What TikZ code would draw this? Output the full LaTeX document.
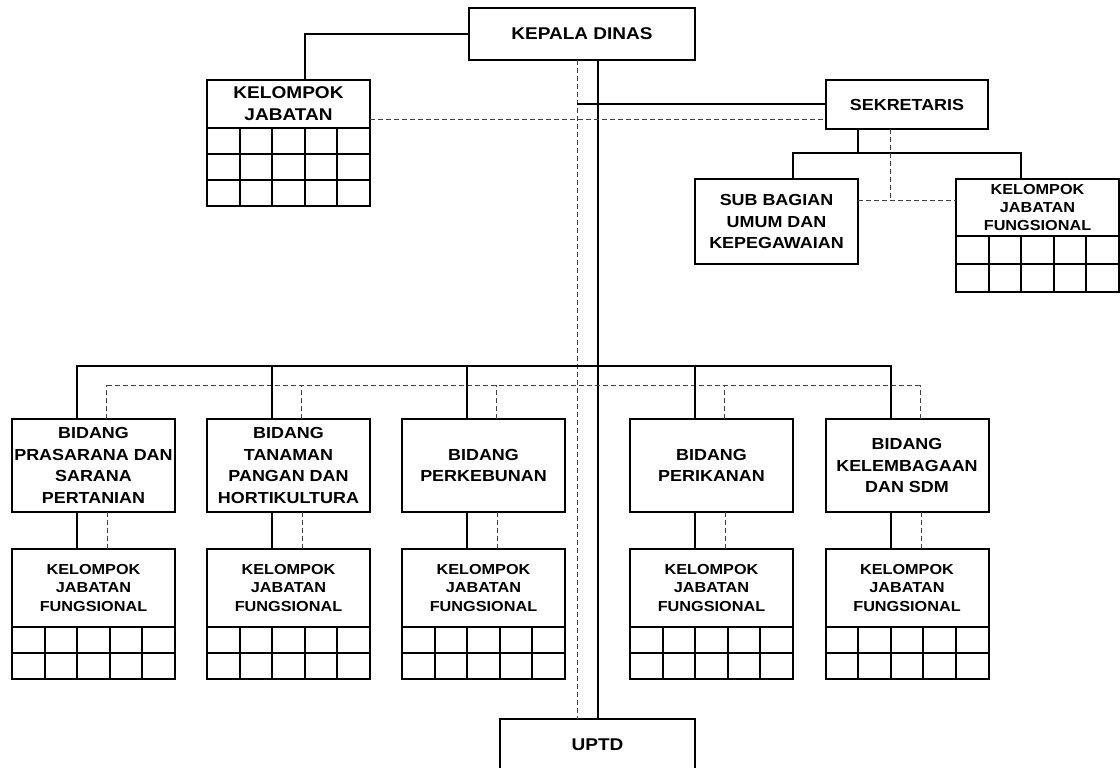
\documentclass[tikz,border=0pt]{standalone}
\usepackage{fontspec}
\setmainfont{Liberation Sans}[FakeStretch=1.12]
\usetikzlibrary{calc,positioning}

\def\cellw{32.6}
\newcommand{\cellgrid}[3]{% node, rows, row height
  \foreach \r in {1,...,#2}
    \foreach \c in {0,...,4}
      \draw[boxline] ($(#1.south west)+(\c*\cellw,{(\r-1)*#3})$) rectangle ++(\cellw,#3);
}

\begin{document}
\begin{tikzpicture}[x=1pt,y=-1pt,
  boxline/.style={line width=2pt},
  box/.style={draw,boxline,outer sep=0pt,inner sep=0pt,align=center,
    font=\bfseries\fontsize{16}{21.5}\selectfont,minimum width=163pt},
  bigbox/.style={box,font=\bfseries\fontsize{17}{22}\selectfont},
  kjf/.style={box,minimum height=78pt,font=\bfseries\fontsize{14.5}{18.3}\selectfont},
  bidang/.style={box,minimum height=93pt},
  link/.style={line width=2pt},
  dashlink/.style={line width=1pt,black!75,dash pattern=on 5pt off 3pt}]

\useasboundingbox (0,0) rectangle (1120,768);

\node[bigbox,minimum width=226pt,minimum height=52pt] (kepala) at (582,34) {KEPALA DINAS};
\node[bigbox,minimum height=48pt] (kj) at (288.5,104) {KELOMPOK\\JABATAN};
\cellgrid{kj}{3}{26}
\node[box,minimum width=162pt,minimum height=49pt] (sekretaris) at (907,104.5) {SEKRETARIS};
\node[box,minimum height=85pt] (subbag) at (776.5,221.5) {SUB BAGIAN\\UMUM DAN\\KEPEGAWAIAN};
\node[kjf,minimum height=57pt] (kjfsek) at (1037.5,207.5) {KELOMPOK\\JABATAN\\FUNGSIONAL};
\cellgrid{kjfsek}{2}{28}
\node[bigbox,minimum width=195pt,minimum height=52pt] (uptd) at (597.5,745) {UPTD};

% bidang
\node[bidang] (prasarana) at (93.5,465.5) {BIDANG\\PRASARANA DAN\\SARANA\\PERTANIAN};
\node[bidang] (tanaman) at (288.5,465.5) {BIDANG\\TANAMAN\\PANGAN DAN\\HORTIKULTURA};
\node[bidang] (perkebunan) at (483.5,465.5) {BIDANG\\PERKEBUNAN};
\node[bidang] (perikanan) at (711.5,465.5) {BIDANG\\PERIKANAN};
\node[bidang] (kelembagaan) at (907,465.5) {BIDANG\\KELEMBAGAAN\\DAN SDM};

\coordinate (dv) at (577,0);
\coordinate (bus) at (0,366);
\coordinate (sekbus) at (857.5,153);

% kepala dinas
\draw[link] (kepala.west) -| ($(kj.north)+(16.5,0)$);
\draw[link] (kepala.south -| uptd.north) -- (uptd.north);
\draw[dashlink] (kepala.south -| dv) -- (uptd.north -| dv);

% sekretariat
\coordinate (kjd) at ($(kj.east)+(0,15)$);
\draw[link] (sekretaris.west) -- (sekretaris.west -| dv);
\draw[dashlink] (kjd) -- (kjd -| sekretaris.west);
\draw[link] (sekretaris.south -| sekbus) -- (sekbus);
\draw[link] ($(subbag.north)+(16,0)$) |- (sekbus) -| ($(kjfsek.north)+(-16.5,0)$);
\coordinate (sekd) at ($(kjfsek.west)+(0,-7.5)$);
\coordinate (sekdv) at ($(sekretaris.south)+(-17,0)$);
\draw[dashlink] (subbag.east |- sekd) -- (sekd);
\draw[dashlink] (sekdv) -- (sekdv |- sekd);

% bidang dan kelompok jabatan fungsional
\draw[dashlink] ($(prasarana.north)+(13,-34)$) -- ($(kelembagaan.north)+(13,-34)$);
\foreach \n in {prasarana,tanaman,perkebunan,perikanan,kelembagaan}{
  \node[kjf,below=37pt of \n] (kjf-\n) {KELOMPOK\\JABATAN\\FUNGSIONAL};
  \cellgrid{kjf-\n}{2}{26}
  \draw[link] ($(\n.north)+(-16.5,0)$) |- (uptd.north |- bus);
  \draw[dashlink] ($(\n.north)+(13,0)$) -- ++(0,-34);
  \draw[link] ($(\n.south)+(-16.5,0)$) -- ($(kjf-\n.north)+(-16.5,0)$);
  \draw[dashlink] ($(\n.south)+(14,0)$) -- ($(kjf-\n.north)+(14,0)$);
}

\end{tikzpicture}
\end{document}
